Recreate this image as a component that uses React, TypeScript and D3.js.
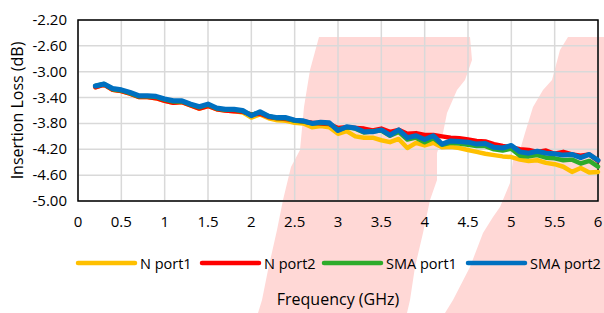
import { line, scaleLinear } from "d3";

const freqGHz = [
  0.2, 0.3, 0.4, 0.5, 0.6, 0.7, 0.8, 0.9, 1.0, 1.1, 1.2, 1.3, 1.4, 1.5, 1.6, 1.7, 1.8, 1.9, 2.0,
  2.1, 2.2, 2.3, 2.4, 2.5, 2.6, 2.7, 2.8, 2.9, 3.0, 3.1, 3.2, 3.3, 3.4, 3.5, 3.6, 3.7, 3.8, 3.9,
  4.0, 4.1, 4.2, 4.3, 4.4, 4.5, 4.6, 4.7, 4.8, 4.9, 5.0, 5.1, 5.2, 5.3, 5.4, 5.5, 5.6, 5.7, 5.8,
  5.9, 6.0
];

const nPort1 = [
  -3.24, -3.2, -3.28, -3.3, -3.34, -3.39, -3.39, -3.41, -3.45, -3.48, -3.47, -3.52, -3.57, -3.53,
  -3.58, -3.6, -3.61, -3.63, -3.71, -3.66, -3.72, -3.75, -3.76, -3.79, -3.8, -3.86, -3.84, -3.86,
  -3.96, -3.92, -4.0, -4.02, -4.02, -4.06, -4.09, -4.04, -4.18, -4.1, -4.14, -4.1, -4.17, -4.16,
  -4.18, -4.21, -4.24, -4.27, -4.29, -4.31, -4.32, -4.36, -4.38, -4.37, -4.41, -4.43, -4.47,
  -4.55, -4.49, -4.56, -4.55
];

const nPort2 = [
  -3.24, -3.2, -3.28, -3.3, -3.34, -3.39, -3.39, -3.41, -3.45, -3.48, -3.47, -3.52, -3.57, -3.53,
  -3.58, -3.6, -3.61, -3.62, -3.66, -3.65, -3.7, -3.72, -3.73, -3.75, -3.77, -3.79, -3.8, -3.81,
  -3.87, -3.86, -3.87, -3.88, -3.91, -3.88, -3.93, -3.9, -3.96, -3.95, -3.98, -3.98, -4.0, -4.02,
  -4.03, -4.05, -4.07, -4.08, -4.12, -4.15, -4.17, -4.2, -4.21, -4.24, -4.22, -4.27, -4.24,
  -4.28, -4.3, -4.28, -4.38
];

const smaPort1 = [
  -3.22, -3.19, -3.27, -3.29, -3.33, -3.38, -3.38, -3.39, -3.43, -3.46, -3.46, -3.51, -3.55,
  -3.51, -3.57, -3.59, -3.59, -3.61, -3.67, -3.63, -3.69, -3.72, -3.72, -3.76, -3.77, -3.8, -3.79,
  -3.8, -3.9, -3.86, -3.88, -3.94, -3.92, -3.91, -3.99, -3.93, -4.05, -4.02, -4.09, -4.03, -4.13,
  -4.1, -4.11, -4.13, -4.15, -4.15, -4.2, -4.22, -4.19, -4.3, -4.31, -4.29, -4.33, -4.34, -4.37,
  -4.36, -4.42, -4.38, -4.47
];

const smaPort2 = [
  -3.22, -3.19, -3.26, -3.28, -3.32, -3.37, -3.37, -3.38, -3.42, -3.45, -3.45, -3.5, -3.54, -3.5,
  -3.56, -3.58, -3.58, -3.6, -3.68, -3.62, -3.69, -3.71, -3.71, -3.75, -3.76, -3.8, -3.78, -3.79,
  -3.91, -3.85, -3.87, -3.93, -3.93, -3.9, -3.98, -3.9, -4.02, -3.99, -4.05, -3.99, -4.12, -4.07,
  -4.08, -4.09, -4.12, -4.11, -4.17, -4.18, -4.14, -4.24, -4.26, -4.23, -4.26, -4.27, -4.29,
  -4.28, -4.33, -4.28, -4.37
];

const seriesNames = ["N port1", "N port2", "SMA port1", "SMA port2"];
const seriesValues = [nPort1, nPort2, smaPort1, smaPort2];
const seriesColors = ["#ffc000", "#ff0000", "#2eab2a", "#0070c0"];

const xTicks = [0, 0.5, 1, 1.5, 2, 2.5, 3, 3.5, 4, 4.5, 5, 5.5, 6];
const yTicks = [-5.0, -4.6, -4.2, -3.8, -3.4, -3.0, -2.6, -2.2];

// pinkish smear behind the chart (pixel outlines)
const smearA: [number, number][] = [
  [319, 37], [470, 37], [472, 60], [465, 80], [457, 90], [447, 113], [443, 133], [437, 153],
  [437, 180], [430, 200], [423, 233], [415, 267], [410, 300], [407, 313], [258, 313], [262, 300],
  [268, 270], [277, 230], [283, 200], [291, 167], [300, 150], [304, 107], [310, 70]
];
const smearB: [number, number][] = [
  [568, 37], [604, 37], [604, 313], [445, 313], [453, 300], [470, 267], [483, 233], [493, 217],
  [500, 207], [510, 183], [513, 160], [520, 150], [525, 133], [533, 107], [543, 90], [552, 80],
  [560, 50]
];

const width = 604;
const height = 313;
const margin = { top: 20, right: 6, bottom: 112, left: 78 };
const font = "'Open Sans', sans-serif";

export default function App() {
  const x = scaleLinear().domain([0, 6]).range([margin.left, width - margin.right]);
  const y = scaleLinear().domain([-5, -2.2]).range([height - margin.bottom, margin.top]);
  const path = line<number>()
    .x((_, i) => x(freqGHz[i]))
    .y((d) => y(d));
  const outline = line<[number, number]>();

  const legendStarts = [78, 202, 324, 468];

  return (
    <svg
      width={width}
      height={height}
      style={{ position: "absolute", left: 0, top: 0, background: "#fff" }}
      fontFamily={font}
    >
      {[smearA, smearB].map((pts, i) => (
        <path key={i} d={`${outline(pts) ?? ""}Z`} fill="#ffd8d6" stroke="none" />
      ))}
      {xTicks.map((t) => (
        <line key={`gx${t}`} x1={x(t)} x2={x(t)} y1={y(-5)} y2={y(-2.2)} stroke="#d9d9d9" strokeWidth={1.5} />
      ))}
      {yTicks.map((t) => (
        <line key={`gy${t}`} x1={x(0)} x2={x(6)} y1={y(t)} y2={y(t)} stroke="#d9d9d9" strokeWidth={1.5} />
      ))}
      <rect
        x={x(0)}
        y={y(-2.2)}
        width={x(6) - x(0)}
        height={y(-5) - y(-2.2)}
        fill="none"
        stroke="#000"
        strokeWidth={1.5}
      />
      {seriesValues.map((vals, i) => (
        <path
          key={seriesNames[i]}
          d={path(vals) ?? ""}
          fill="none"
          stroke={seriesColors[i]}
          strokeWidth={i === 3 ? 5 : 4.5}
          strokeLinejoin="round"
          strokeLinecap="round"
        />
      ))}
      {yTicks.map((t) => (
        <text key={`ly${t}`} x={67} y={y(t) + 5} textAnchor="end" fontSize={15} fill="#000">
          {t.toFixed(2)}
        </text>
      ))}
      {xTicks.map((t) => (
        <text key={`lx${t}`} x={x(t)} y={227} textAnchor="middle" fontSize={15} fill="#000">
          {String(t)}
        </text>
      ))}
      <text
        transform={`translate(23,${(y(-5) + y(-2.2)) / 2}) rotate(-90)`}
        textAnchor="middle"
        fontSize={16}
        fill="#000"
      >
        Insertion Loss (dB)
      </text>
      <text x={(x(0) + x(6)) / 2} y={305} textAnchor="middle" fontSize={16} fill="#000">
        Frequency (GHz)
      </text>
      {seriesNames.map((name, i) => (
        <g key={`lg${name}`}>
          <line
            x1={legendStarts[i]}
            x2={legendStarts[i] + 57}
            y1={263}
            y2={263}
            stroke={seriesColors[i]}
            strokeWidth={4.5}
            strokeLinecap="round"
          />
          <text x={legendStarts[i] + 62} y={269} fontSize={14.5} fill="#000">
            {name}
          </text>
        </g>
      ))}
    </svg>
  );
}
